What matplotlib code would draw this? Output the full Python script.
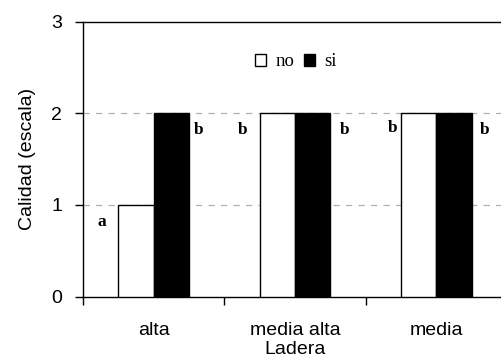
import matplotlib.pyplot as plt
from matplotlib.patches import Patch
import numpy as np

categories = ["alta", "media alta", "media"]
no_vals = [1, 2, 2]
si_vals = [2, 2, 2]

# significance letters: (label, x offset from category centre, y value)
letters = [
    ("a", -0.37, 0.81),
    ("b", 0.32, 1.82),
    ("b", -0.37, 1.82),
    ("b", 0.35, 1.82),
    ("b", -0.31, 1.84),
    ("b", 0.34, 1.82),
]
letter_cat = [0, 0, 1, 1, 2, 2]

sans = "Liberation Sans"
serif = "Liberation Serif"

fig = plt.figure(figsize=(5.01, 3.58), dpi=100)
ax = fig.add_axes([83 / 501, 61.3 / 358, 424 / 501, 275.2 / 358])

x = np.arange(len(categories))
w = 0.25
ax.bar(x - w / 2, no_vals, w, color="white", edgecolor="black", linewidth=1, zorder=3)
ax.bar(x + w / 2, si_vals, w, color="black", edgecolor="black", linewidth=1, zorder=3)

for (lab, dx, y), c in zip(letters, letter_cat):
    ax.text(x[c] + dx, y, lab, ha="center", va="center", fontsize=12.5,
            fontweight="bold", family=serif)

ax.set_xlim(-0.5, 2.5)
ax.set_ylim(0, 3)
ax.set_yticks([0, 1, 2, 3])
ax.set_xticks(x)
ax.set_xticklabels(categories, fontsize=14, family=sans)
ax.set_xticks([-0.5, 0.5, 1.5, 2.5], minor=True)
ax.tick_params(axis="x", which="major", length=0, pad=18)
ax.tick_params(axis="x", which="minor", length=6, direction="out", width=1)
ax.tick_params(axis="y", length=6, direction="out", width=1, pad=9, labelsize=14)
for t in ax.get_yticklabels():
    t.set_family(sans)

for yv in [1, 2]:
    ax.axhline(yv, color="#b0b0b0", linestyle=(0, (5, 5)), linewidth=0.9, zorder=1)

ax.spines["right"].set_visible(False)
for s in ["left", "bottom", "top"]:
    ax.spines[s].set_linewidth(1)
    ax.spines[s].set_color("black")

ax.set_ylabel("Calidad (escala)", fontsize=14, family=sans, labelpad=11)
ax.set_xlabel("Ladera", fontsize=14, family=sans, labelpad=2)

handles = [Patch(facecolor="white", edgecolor="black", linewidth=1),
           Patch(facecolor="black", edgecolor="black", linewidth=1)]
ax.legend(handles, ["no", "si"], ncol=2, frameon=False,
          loc="center", bbox_to_anchor=(296 / 501, (358 - 62) / 358),
          bbox_transform=fig.transFigure,
          prop={"family": serif, "size": 13.5},
          handlelength=0.6, handleheight=0.6, handletextpad=0.5,
          columnspacing=0.5)

fig.savefig("out.png", dpi=100)
